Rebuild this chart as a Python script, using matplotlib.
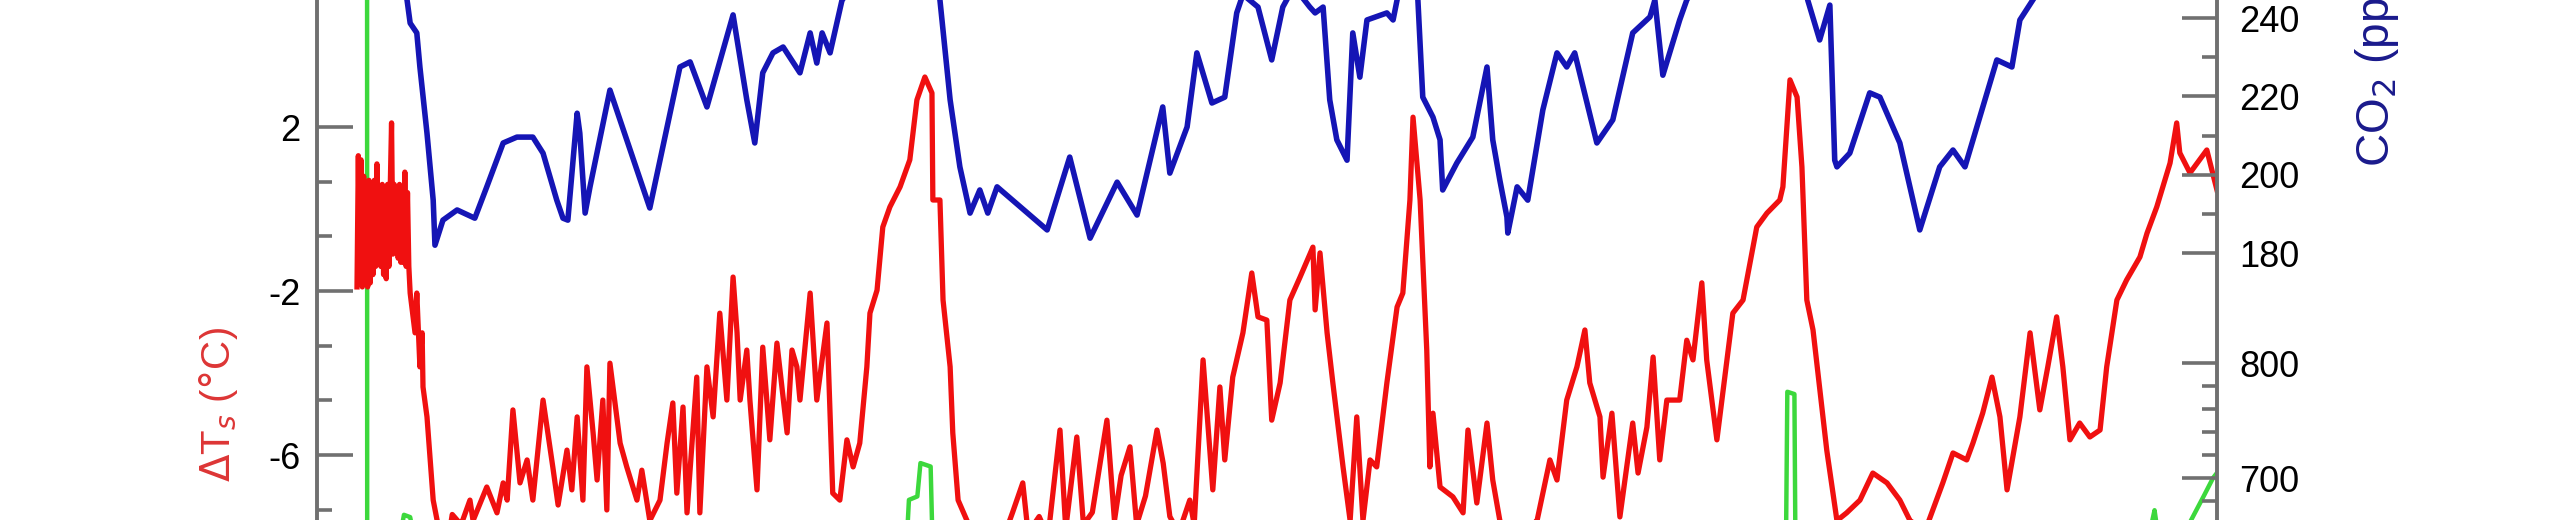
import matplotlib
matplotlib.use("Agg")
from matplotlib import pyplot as plt
from matplotlib.ticker import FixedLocator

plt.rcParams['font.family'] = ['Liberation Sans', 'DejaVu Sans']

# Vostok ice core, age in kyr BP
temp_age = [0.0, 0.3, 0.6, 0.9, 1.2, 1.5, 1.8, 2.1, 2.4, 2.7, 3.0, 3.3, 3.6, 3.9, 4.2, 4.5, 4.8,
            5.1, 5.4, 5.7, 6.0, 6.3, 6.6, 6.9, 7.2, 7.5, 7.8, 8.1, 8.4, 8.7, 9.0, 9.3, 9.6, 9.9,
            10.2, 10.5, 10.8, 11.1, 11.4, 11.7,
            12.0, 13.1, 13.5, 14.2, 14.7, 14.9, 15.8, 17.2, 18.1, 19.0, 20.0, 21.5, 23.5,
            25.5, 26.2, 29.3, 31.6, 33.0, 33.9, 35.2, 36.8, 38.4, 39.7, 42.0, 44.2, 45.4, 47.4,
            48.5, 49.7, 51.0, 51.9, 53.3, 54.2, 55.5, 56.4, 57.1, 59.4, 60.9, 63.2, 64.3, 66.1,
            68.4, 70.0, 71.3, 72.2, 73.6, 74.5, 76.7, 77.4, 79.0, 80.4, 81.9, 83.5, 84.9, 85.8,
            86.5, 88.0, 88.7, 90.3, 91.6, 93.2, 94.8, 97.1, 98.2, 99.3, 100.0, 102.3, 103.8,
            106.1, 107.4, 109.0, 110.6, 112.0, 113.5, 115.1, 115.8, 117.4, 118.7, 120.3, 122.6,
            124.8, 126.4, 128.2, 129.8, 130.0, 131.6, 132.3, 133.9, 134.5, 135.7, 137.7,
            140.0, 143.0, 146.0, 148.0, 150.3, 151.5, 154.0, 156.0, 158.7, 160.0, 162.5, 164.0,
            166.0, 169.3, 171.0, 172.5, 174.5, 176.0, 178.0, 180.6, 182.0, 183.5, 185.5, 188.0,
            189.0, 191.0, 193.2, 194.8, 195.9, 197.7, 200.0, 202.0, 203.4, 205.4, 206.5, 208.4,
            210.6, 212.9, 215.8, 216.3, 217.4, 219.0, 220.3, 222.6, 224.2, 225.7, 227.1, 228.7,
            230.2, 232.5, 234.8, 236.1, 237.7, 238.4, 240.0, 241.5, 242.2, 242.9, 244.5, 247.4,
            249.7, 250.8, 252.8, 255.1, 256.4, 258.0, 260.0, 263.0, 266.4, 269.3, 270.9, 273.1,
            275.4, 277.2, 278.3, 280.6, 281.3, 283.3, 285.1, 288.0, 289.2, 291.2, 292.6, 294.1,
            295.7, 298.6, 300.2, 301.6, 303.6, 304.7, 307.0, 310.6, 312.9, 316.0, 318.3, 321.2,
            321.9, 323.5, 325.1, 326.2, 327.3, 328.7, 331.8, 334.1, 336.3, 339.3, 342.2, 345.4,
            348.3, 350.6, 354.0, 358.0, 360.3, 363.4, 364.8, 367.0, 369.1, 370.9, 372.5, 375.4,
            377.7, 379.9, 381.7, 383.7, 385.1, 386.7, 388.9, 391.2, 393.5, 395.0, 397.3, 399.5,
            402.5, 404.1, 406.3, 409.3, 410.8, 411.5, 413.8, 417.6, 419.9]
temp_dT = [-1.9, 1.3, -1.8, 1.2, -1.9, 0.8, -1.7, 0.6, -1.9, 0.7, -1.8, 0.6, -1.6, 0.7, -1.4, 1.1, -1.2,
           0.5, -1.4, 0.6, -1.6, 0.5, -1.7, 0.6, -1.4, 0.5, 2.1, -1.1, 0.6, -1.0, 0.5, -1.2, 0.6, -1.3,
           0.5, -1.3, 0.9, -1.4, 0.4, -1.4,
           -2.05, -3.02, -2.05, -3.85, -3.02, -4.34, -5.07, -7.1, -7.6, -8.2, -8.5, -7.45, -7.7,
           -7.1, -7.6, -6.78, -7.41, -6.68, -7.1, -4.9, -6.68, -6.12, -7.1, -4.66, -6.29, -7.22, -5.88,
           -6.85, -5.07, -7.1, -3.85, -5.46, -6.61, -4.66, -7.34, -3.76, -5.71, -6.29, -7.1, -6.37, -7.6,
           -7.1, -5.71, -4.73, -6.93, -4.83, -7.41, -4.1, -7.41, -3.85, -5.07, -2.54, -4.66, -1.66, -3.02,
           -4.66, -3.44, -4.66, -6.85, -3.37, -5.63, -3.27, -5.46, -3.44, -3.85, -4.66, -2.05, -4.66,
           -2.78, -6.93, -7.1, -5.63, -6.29, -5.71, -3.85, -2.54, -1.98, -0.44, 0.05, 0.54,
           1.2, 2.66, 3.22, 2.83, 0.22, 0.22, -2.22, -3.85, -5.46, -7.1, -7.6,
           -8.1, -7.7, -8.0, -7.4, -6.68, -7.9, -7.5, -8.0, -5.39, -7.8, -5.56, -7.7,
           -7.4, -5.15, -7.6, -6.5, -5.8, -7.7, -7.0, -5.39, -6.2, -7.5, -7.9, -7.1,
           -7.7, -3.68, -6.85, -4.34, -6.12, -4.1, -3.02, -1.56, -2.63, -2.71, -5.15, -4.24,
           -2.22, -1.66, -0.93, -2.46, -1.07, -3.02, -4.24, -6.29, -7.6, -5.07, -7.6, -6.12,
           -6.29, -4.24, -2.39, -2.05, 0.22, 2.24, 0.22, -3.44, -6.29, -4.98, -6.78, -7.02,
           -7.41, -5.39, -7.17, -5.22, -6.61, -7.6, -8.0, -7.9, -7.6, -6.12, -6.61, -4.66,
           -3.85, -2.95, -4.24, -5.07, -6.54, -4.98, -7.51, -5.22, -6.44, -5.32, -3.61, -6.12,
           -4.66, -4.66, -3.2, -3.68, -1.8, -3.68, -5.63, -2.54, -2.22, -0.44, -0.1, 0.22,
           0.54, 3.15, 2.73, 1.02, -2.22, -2.95, -5.88, -7.6, -7.41, -7.1, -6.44, -6.68,
           -7.1, -7.6, -7.85, -6.68, -5.95, -6.12, -5.71, -4.98, -4.1, -5.07, -6.85, -5.07,
           -3.02, -4.9, -3.85, -2.63, -3.85, -5.63, -5.22, -5.56, -5.39, -3.85, -2.22, -1.73,
           -1.17, -0.59, 0.05, 1.12, 2.1, 1.37, 0.88, 1.44, 0.46]

co2_age = [0.5, 4.0, 8.0, 11.3, 12.0, 13.5, 14.2, 15.8, 17.2, 17.6, 19.4, 22.6, 26.6, 29.3, 33.0,
           36.1, 39.7, 42.0, 45.1, 46.5, 47.6, 49.7, 50.3, 51.5, 52.6, 57.1, 66.1, 72.9, 75.2,
           79.0, 84.9, 88.0, 89.8, 91.6, 93.9, 96.2, 100.0, 102.3, 103.8, 105.0, 106.8, 109.0,
           109.5, 112.0, 116.0, 120.0, 124.0, 127.0, 129.0, 131.0, 131.6, 133.9, 136.1, 138.4,
           140.6, 142.4, 144.5, 155.8, 160.9, 165.5, 171.6, 176.1, 181.9, 183.5, 187.4, 189.6,
           193.0, 195.9, 198.6, 200.0, 203.4, 206.5, 209.0, 211.5, 215.1, 216.3, 218.1, 219.6,
           221.2, 223.5, 224.8, 226.4, 228.0, 232.5, 233.9, 234.8, 236.5, 238.0, 239.5, 240.6,
           242.9, 244.5, 245.1, 248.3, 251.9, 255.1, 256.4, 258.0, 259.6, 259.8, 261.9, 264.3,
           267.7, 270.9, 273.1, 274.9, 279.9, 283.5, 288.0, 291.9, 293.0, 294.8, 298.6, 300.2,
           304.0, 310.0, 316.0, 321.0, 324.0, 326.0, 327.5, 330.2, 332.5, 333.6, 334.1, 337.0,
           341.5, 343.8, 348.3, 352.8, 357.3, 360.3, 363.0, 370.2, 373.6, 375.4, 378.3, 385.0,
           395.0, 405.0, 415.0, 420.0]
co2_ppmv = [280, 262, 258, 244.6, 238.7, 236.2, 227.5, 210.6, 193.5, 182.0, 188.4, 191.0, 188.9, 196.9, 208.1,
            209.6, 209.6, 205.5, 193.5, 188.9, 188.4, 215.7, 210.6, 190.2, 196.9, 221.6, 191.5, 227.5, 228.8,
            217.3, 240.8, 219.1, 208.1, 226.0, 231.1, 232.6, 226.0, 236.2, 228.5, 236.2, 231.1, 242.0,
            244.6, 248, 255, 266, 275, 283, 274, 250, 244.6, 219.1, 202.0, 190.2,
            196.1, 190.2, 196.9, 185.9, 204.5, 183.8, 198.1, 189.7, 217.3, 200.4, 212.2, 231.1,
            218.3, 219.8, 241.3, 246, 242.8, 229.3, 242.8, 248, 242.8, 241.3, 242.8, 219.1,
            208.9, 203.7, 236.2, 224.9, 239.5, 241.3, 239.5, 244.6, 255, 265, 244.6, 219.8,
            214.7, 208.9, 196.1, 203.0, 209.6, 227.5, 208.9, 198.6, 189.2, 185.1, 196.9, 193.5,
            216.5, 231.1, 227.5, 231.1, 208.1, 214.0, 236.2, 240.3, 244.6, 225.4, 239.5, 244.6,
            252, 258, 268, 285, 298, 280, 244.6, 234.4, 243.3, 203.7, 202.0, 205.5,
            220.9, 219.8, 208.1, 185.9, 202.0, 206.3, 202.0, 229.3, 227.5, 239.5, 244.6, 255,
            265, 275, 280, 285]

ch4_age = [2.25, 2.3, 5.0, 8.0, 10.0, 10.6, 12.0, 12.8, 16.0, 30.0, 60.0, 100.0, 123.5, 124.6,
           126.5, 127.2, 129.5, 130.2, 140.0, 200.0, 240.0, 280.0, 322.5, 322.9, 324.5, 324.8,
           340.0, 380.0, 404.0, 405.8, 407.0, 412.5, 414.0, 417.0, 419.0, 420.0]
ch4_ppbv = [1700, 650, 600, 640, 655, 668, 666, 650, 420, 450, 500, 550, 600, 681,
            684, 713, 710, 600, 400, 450, 550, 450, 600, 775, 773, 600,
            420, 480, 640, 672, 640, 640, 663, 685, 700, 705]

dT_ticks = [-6, -2, 2]
dT_minor = [-22 / 3, -14 / 3, -10 / 3, -2 / 3, 2 / 3]
co2_ticks = [180, 200, 220, 240]
co2_minor = [190, 210, 230, 250]
ch4_ticks = [700, 800]
ch4_minor = [680, 720, 740, 760, 780]

GREY = '#707070'

fig = plt.figure(figsize=(25.6, 5.2), dpi=100)
ax = fig.add_axes([317 / 2560, 0, 1900 / 2560, 1])
ax_co2 = ax.twinx()
ax_ch4 = ax.twinx()

ax_ch4.plot(ch4_age, ch4_ppbv, color='#3cd83c', lw=3.2, zorder=1)
ax.plot(temp_age, temp_dT, color='#f01010', lw=3.8, zorder=2)
ax_co2.plot(co2_age, co2_ppmv, color='#1515b5', lw=4.0, zorder=3)

ax.set_zorder(ax_ch4.get_zorder() + 1)
ax.patch.set_visible(False)
ax_co2.set_zorder(ax.get_zorder() + 1)
ax_co2.patch.set_visible(False)

ax.set_xlim(-9.03, 419.9)
ax.set_ylim(-7.585, 5.098)
ax_co2.set_ylim(111.85, 244.6)
ax_ch4.set_ylim(663.5, 1115.7)

ax.tick_params(axis='x', bottom=False, labelbottom=False)

ax.set_yticks(dT_ticks)
ax.set_yticklabels(['-6', '-2', '2'])
ax.yaxis.set_minor_locator(FixedLocator(dT_minor))
ax_co2.set_yticks(co2_ticks)
ax_co2.yaxis.set_minor_locator(FixedLocator(co2_minor))
ax_ch4.set_yticks(ch4_ticks)
ax_ch4.yaxis.set_minor_locator(FixedLocator(ch4_minor))

ax.tick_params(axis='y', which='major', direction='in', length=26, width=2.6, color=GREY,
               labelsize=26, pad=12)
ax.tick_params(axis='y', which='minor', direction='in', length=11, width=2.6, color=GREY)
for a in (ax_co2, ax_ch4):
    a.tick_params(axis='y', which='major', direction='in', length=25, width=2.6, color=GREY,
                  labelsize=26, pad=16)
    a.tick_params(axis='y', which='minor', direction='in', length=11, width=2.6, color=GREY)

for a in (ax, ax_co2, ax_ch4):
    for side in ('top', 'bottom', 'left', 'right'):
        a.spines[side].set_visible(False)
ax.spines['left'].set_visible(True)
ax.spines['left'].set_color(GREY)
ax.spines['left'].set_linewidth(2.8)
ax_co2.spines['right'].set_visible(True)
ax_co2.spines['right'].set_color(GREY)
ax_co2.spines['right'].set_linewidth(2.8)

fig.text(218 / 2560, 1 - 405 / 520, r'$\Delta$T$_s$ ($\degree$C)', color='#dd3535',
         fontsize=29, rotation=90, ha='center', va='center')
fig.text(2377 / 2560, 1 - 167 / 520, r'CO$_2$ (ppmv)', color='#1a1a8c',
         fontsize=33, rotation=90, ha='center', va='bottom')

fig.savefig('out.png', dpi=100)
